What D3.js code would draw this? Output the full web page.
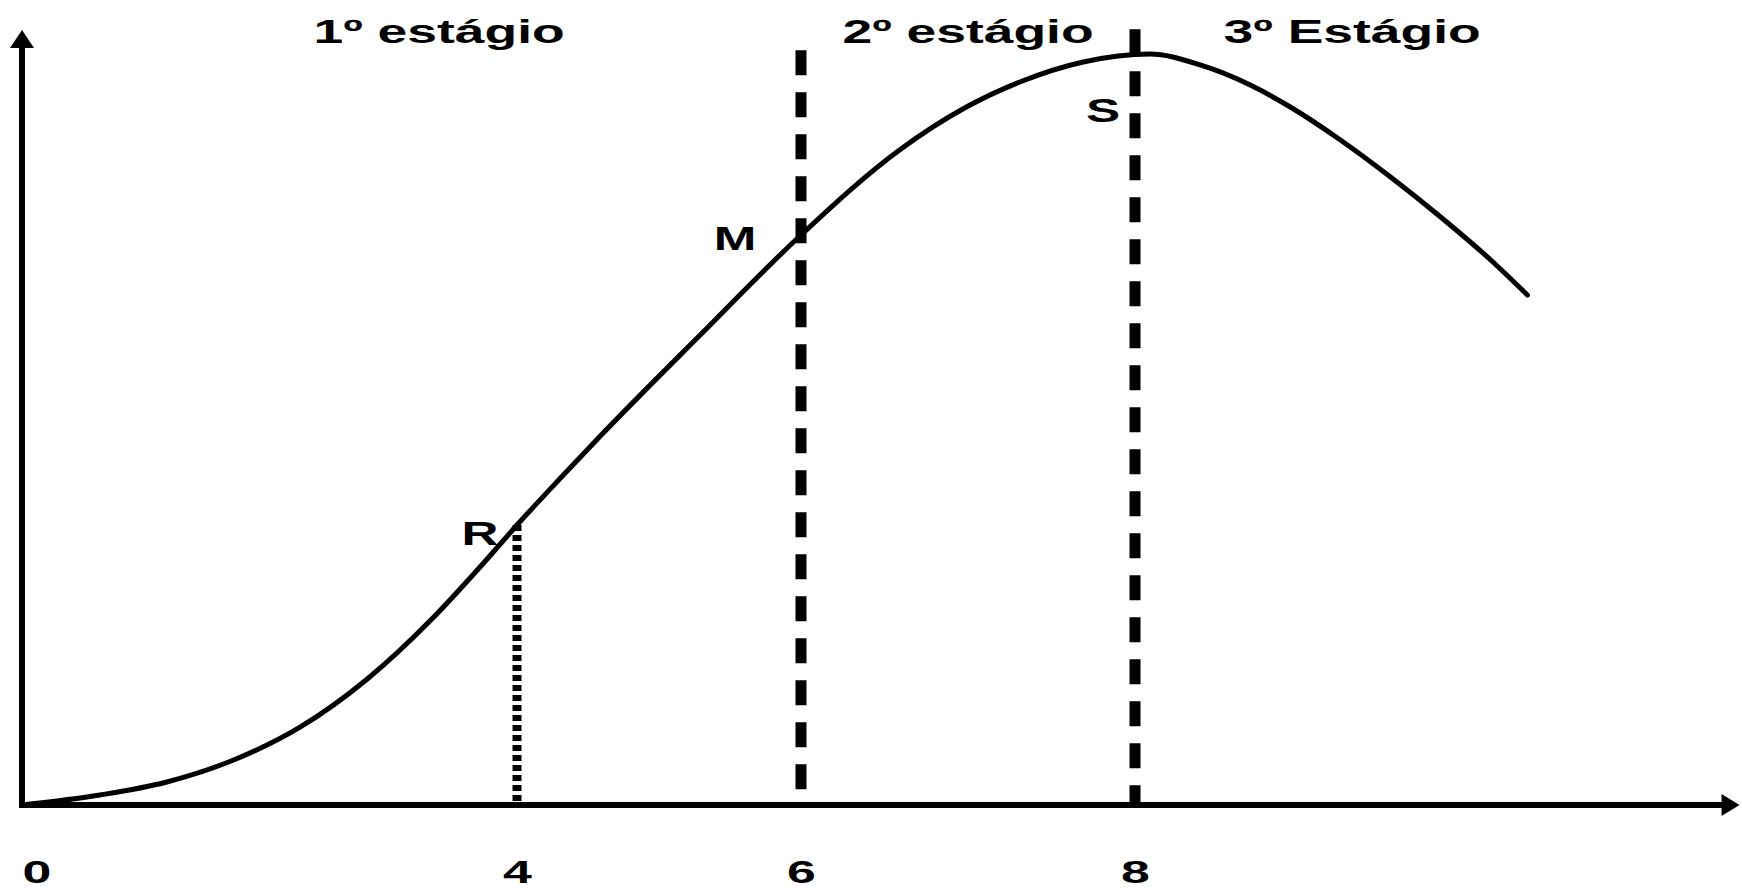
<!DOCTYPE html>
<meta charset="utf-8">
<style>
body { margin: 0; background: #fff; }
text {
  font-family: "Liberation Sans", Arial, sans-serif;
  font-weight: bold;
  fill: #000;
}
</style>
<svg width="1742" height="888"></svg>
<script src="https://d3js.org/d3.v7.min.js"></script>
<script>
// total product curve (input, output)
var inputX  = [0, 0.63, 1.17, 1.71, 2.25, 2.79, 3.32, 3.73, 4.0, 4.30, 4.58, 5.29, 6.0, 6.59, 6.99, 7.31, 7.69, 8.09, 8.39, 8.69, 8.93, 9.23, 9.53, 9.83, 10.13, 10.35];
var outputY = [0, 1.33, 3.06, 5.99, 10.39, 16.78, 24.9, 32.22, 37.28, 43.41, 49.0, 62.58, 75.9, 87.22, 92.94, 96.27, 98.94, 100, 98.54, 95.87, 92.94, 88.55, 83.62, 78.3, 72.57, 67.91];

var tickValues = [0, 4, 6, 8];
var tickLabels = ["0", "4", "6", "8"];

var stageNames  = ["1º estágio", "2º estágio", "3º Estágio"];
var stageCenter = [3.37, 7.0, 9.3];
var stageLevel  = 101.5;

var pointNames = ["R", "M", "S"];
var pointX     = [4, 6, 8];
var pointY     = [37.3, 75.9, 99.9];

// vertical guides: x, top value, style
var guideX    = [4, 6, 8];
var guideTop  = [37.3, 100.5, 103.3];
var guideKind = ["dot", "dash", "dash"];

var axisXEnd = 11.62, axisYEnd = 103.2;

var svg = d3.select("svg"),
    margin = {top: 54, left: 22},
    g = svg.append("g").attr("transform", "translate(" + margin.left + "," + margin.top + ")");

// schematic axis: the labelled points are not evenly spaced
var x = d3.scaleLinear()
    .domain([0, 4, 6, 8])
    .range([0, 495, 779, 1113]);

var y = d3.scaleLinear()
    .domain([0, 100])
    .range([751, 0]);

var curve = inputX.map(function(d, i) { return [d, outputY[i]]; });

// guides
guideX.forEach(function(v, i) {
  g.append("line")
      .attr("x1", x(v)).attr("x2", x(v))
      .attr("y1", y(guideTop[i])).attr("y2", y(0))
      .attr("stroke", "#000")
      .attr("stroke-width", guideKind[i] == "dot" ? 9 : 11)
      .attr("stroke-dasharray", guideKind[i] == "dot" ? "6,4" : "25,17");
});

// axes with arrows
g.append("line")
    .attr("x1", x(0)).attr("x2", x(0))
    .attr("y1", y(0)).attr("y2", y(axisYEnd) + 16)
    .attr("stroke", "#000").attr("stroke-width", 6).attr("stroke-linecap", "square");
g.append("path")
    .attr("d", "M" + x(0) + "," + y(axisYEnd) + "l-12,18h24z")
    .attr("fill", "#000");

g.append("line")
    .attr("x1", x(0)).attr("x2", x(axisXEnd) - 16)
    .attr("y1", y(0)).attr("y2", y(0))
    .attr("stroke", "#000").attr("stroke-width", 6).attr("stroke-linecap", "square");
g.append("path")
    .attr("d", "M" + x(axisXEnd) + "," + y(0) + "l-18,-11v22z")
    .attr("fill", "#000");

// the curve
g.append("path")
    .datum(curve)
    .attr("fill", "none")
    .attr("stroke", "#000")
    .attr("stroke-width", 5)
    .attr("stroke-linecap", "round")
    .attr("d", d3.line()
        .x(function(d) { return x(d[0]); })
        .y(function(d) { return y(d[1]); })
        .curve(d3.curveMonotoneX));

// tick labels
var xAxis = g.append("g")
    .attr("transform", "translate(0," + y(0) + ")")
    .call(d3.axisBottom(x)
        .tickValues(tickValues)
        .tickSize(0)
        .tickPadding(55)
        .tickFormat(function(d, i) { return tickLabels[i]; }));
xAxis.select(".domain").remove();
xAxis.selectAll("text")
    .attr("font-size", 32)
    .attr("font-family", null)
    .attr("fill", "#000")
    .attr("transform", "scale(1.62,1)")
    .attr("text-anchor", function(d) { return d == 0 ? "start" : "middle"; });

// stage titles
stageNames.forEach(function(s, i) {
  g.append("text")
      .attr("transform", "translate(" + x(stageCenter[i]) + "," + y(stageLevel) + ") scale(1.62,1)")
      .attr("text-anchor", "middle")
      .attr("font-size", 33)
      .text(s);
});

// point letters
var offs = {R: [-37, 20], M: [-66, 15], S: [-32, 67]};
pointNames.forEach(function(s, i) {
  g.append("text")
      .attr("transform", "translate(" + (x(pointX[i]) + offs[s][0]) + "," + (y(pointY[i]) + offs[s][1]) + ") scale(1.55,1)")
      .attr("text-anchor", "middle")
      .attr("font-size", 33)
      .text(s);
});
</script>
